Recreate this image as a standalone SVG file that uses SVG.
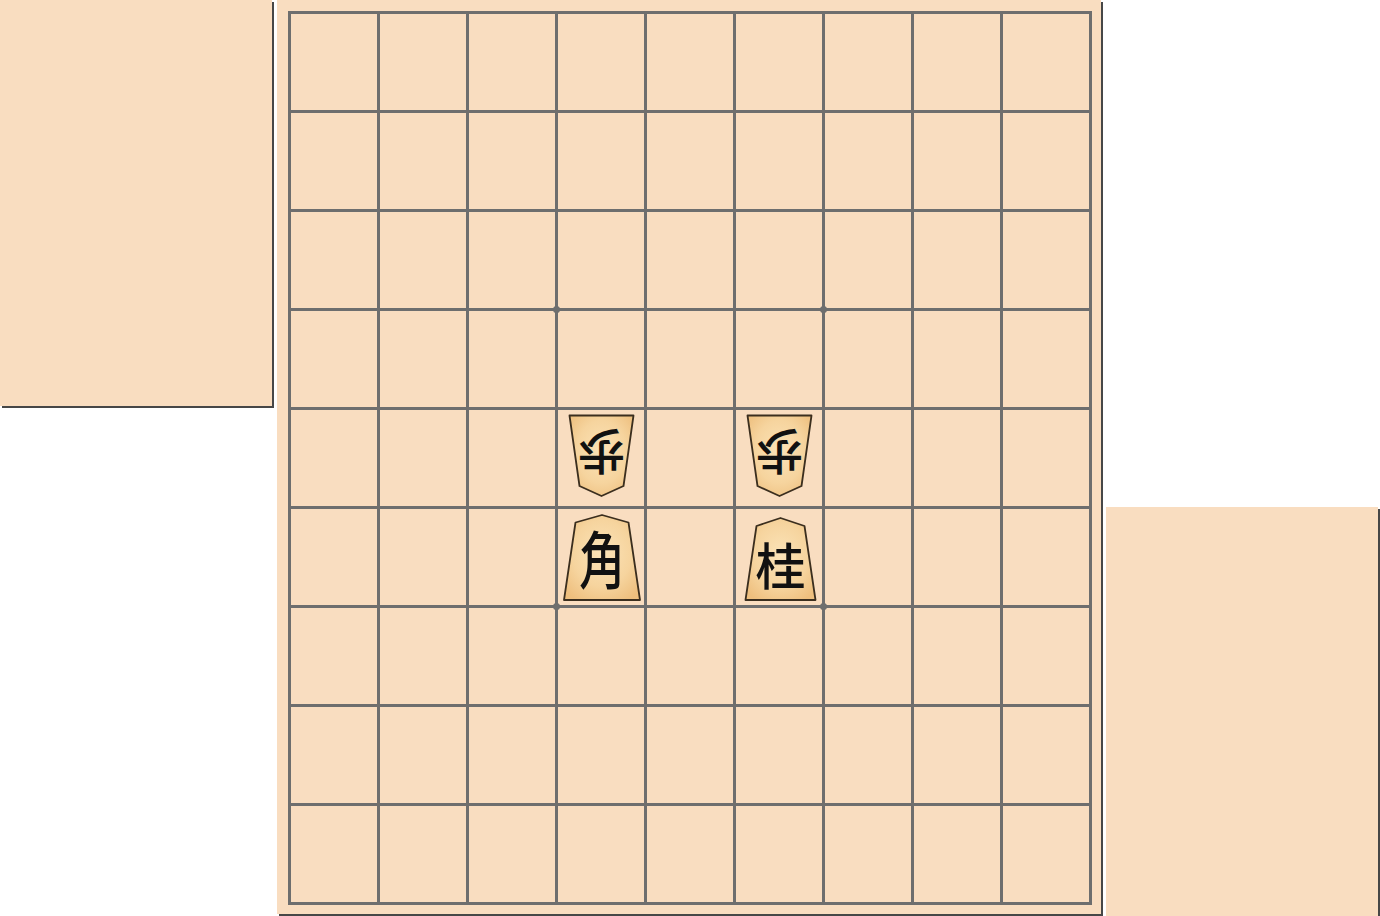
<svg xmlns="http://www.w3.org/2000/svg" width="1380" height="916" viewBox="0 0 1380 916">
<defs>
<radialGradient id="wood" cx="50%" cy="45%" r="65%">
<stop offset="0" stop-color="#fbe3b8"/>
<stop offset="0.6" stop-color="#f6d49e"/>
<stop offset="1" stop-color="#eebf7e"/>
</radialGradient>
<style>
.panel{fill:#f9ddc0}
.shadow{fill:#474747}
.grid line{stroke:#6e6e6e;stroke-width:3}
.star{fill:#6e6e6e}
.piece{fill:url(#wood);stroke:#3b2e1e;stroke-width:1.8;stroke-linejoin:round}
.glyph{font-family:"Noto Sans CJK JP","Noto Sans CJK SC",sans-serif;fill:#111;text-anchor:middle;font-weight:500}
</style>
</defs>
<rect width="1380" height="916" fill="#ffffff"/>
<g id="left-hand">
<rect class="shadow" x="2" y="2" width="272" height="406"/>
<rect class="panel" x="0" y="0" width="272" height="406"/>
</g>
<g id="board">
<rect class="shadow" x="279" y="2" width="824" height="914"/>
<rect class="panel" x="277" y="0" width="824" height="914"/>
</g>
<g id="right-hand">
<rect class="shadow" x="1108" y="509" width="272" height="409"/>
<rect class="panel" x="1106" y="507" width="272" height="409"/>
</g>
<g id="grid" class="grid">
<line x1="289.5" y1="12" x2="289.5" y2="903"/>
<line x1="378.5" y1="12" x2="378.5" y2="903"/>
<line x1="467.5" y1="12" x2="467.5" y2="903"/>
<line x1="556.5" y1="12" x2="556.5" y2="903"/>
<line x1="645.5" y1="12" x2="645.5" y2="903"/>
<line x1="734.5" y1="12" x2="734.5" y2="903"/>
<line x1="823.5" y1="12" x2="823.5" y2="903"/>
<line x1="912.5" y1="12" x2="912.5" y2="903"/>
<line x1="1001.5" y1="12" x2="1001.5" y2="903"/>
<line x1="1090.5" y1="12" x2="1090.5" y2="903"/>
<line x1="288" y1="12.5" x2="1092" y2="12.5"/>
<line x1="288" y1="111.5" x2="1092" y2="111.5"/>
<line x1="288" y1="210.5" x2="1092" y2="210.5"/>
<line x1="288" y1="309.5" x2="1092" y2="309.5"/>
<line x1="288" y1="408.5" x2="1092" y2="408.5"/>
<line x1="288" y1="507.5" x2="1092" y2="507.5"/>
<line x1="288" y1="606.5" x2="1092" y2="606.5"/>
<line x1="288" y1="705.5" x2="1092" y2="705.5"/>
<line x1="288" y1="804.5" x2="1092" y2="804.5"/>
<line x1="288" y1="903.5" x2="1092" y2="903.5"/>
<circle class="star" cx="556.5" cy="309.5" r="3.5"/>
<circle class="star" cx="823.5" cy="309.5" r="3.5"/>
<circle class="star" cx="556.5" cy="606.5" r="3.5"/>
<circle class="star" cx="823.5" cy="606.5" r="3.5"/>
</g>
<g id="gote-pawn-1">
<polygon class="piece" points="569.5,415.5 633.5,415.5 623.5,486 601.5,496 579.5,486"/>
<text class="glyph" font-size="48" transform="translate(601.5,451) rotate(180)" y="17">歩</text>
</g>
<g id="gote-pawn-2">
<polygon class="piece" points="747.5,415.5 811.5,415.5 801.5,486 779.5,496 757.5,486"/>
<text class="glyph" font-size="48" transform="translate(779.5,451) rotate(180)" y="17">歩</text>
</g>
<g id="sente-bishop">
<polygon class="piece" points="602,515 628.5,522.5 640,600 564,600 575.5,522.5"/>
<text class="glyph" font-size="46" transform="translate(602,562) scale(1,1.35)" y="16">角</text>
</g>
<g id="sente-knight">
<polygon class="piece" points="780.5,518 804.5,526 815.5,600 745.5,600 756.5,526"/>
<text class="glyph" font-size="50" transform="translate(780.5,567)" y="18">桂</text>
</g>
</svg>
